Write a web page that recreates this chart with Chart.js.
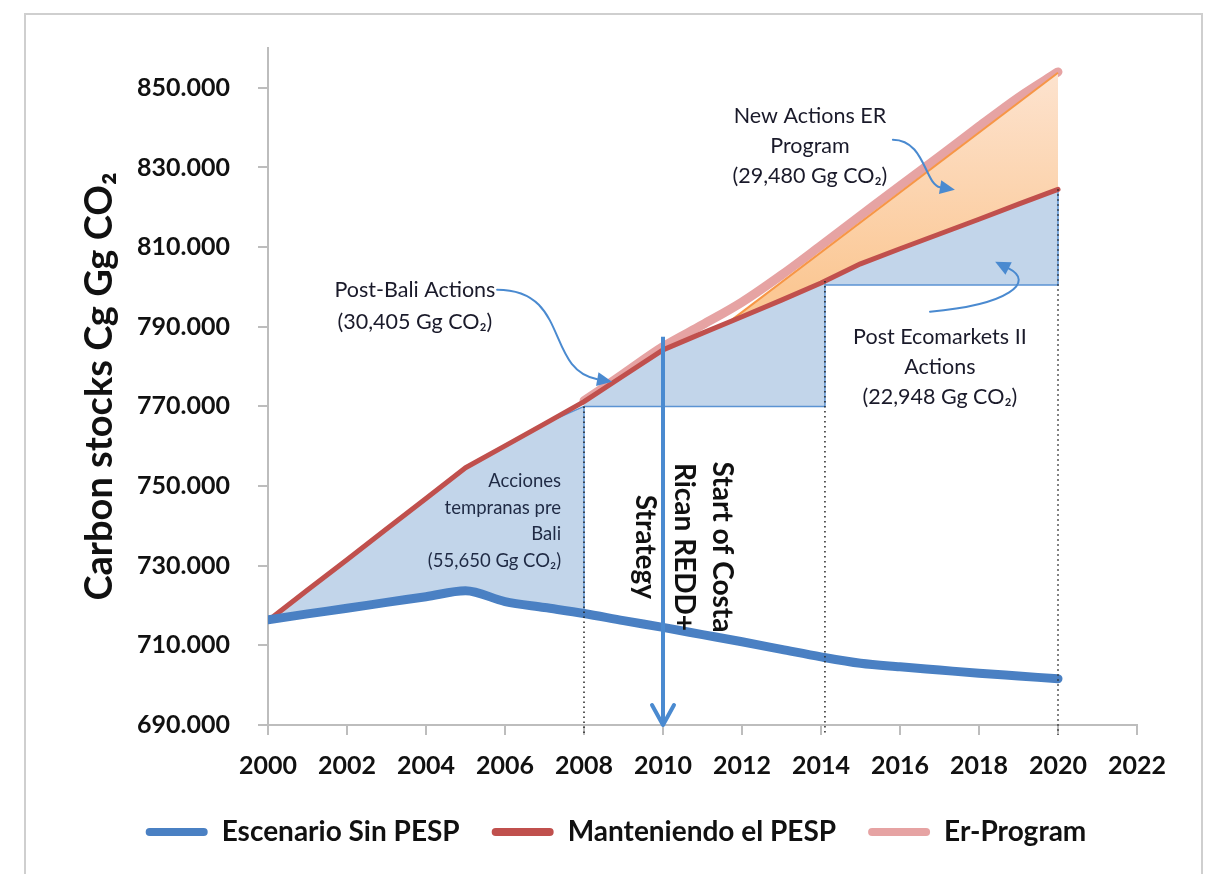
<!DOCTYPE html>
<html><head><meta charset="utf-8">
<script src="https://cdn.jsdelivr.net/npm/chart.js@4"></script>
<style>html,body{margin:0;padding:0;background:#fff}#wrap{width:1214px;height:874px;position:relative}</style>
</head><body><div id="wrap"><canvas id="c"></canvas></div>
<script>
// ---- data (thousand Gg CO2) ----
const years = [2000,2001,2002,2003,2004,2005,2006,2007,2008,2009,2010,2011,2012,2013,2014,2015,2016,2017,2018,2019,2020];
const sinPESP   = [716.4,717.9,719.3,720.8,722.2,723.7,721.0,719.5,718.0,716.2,714.5,712.7,710.9,709.0,707.1,705.5,704.6,703.8,703.0,702.3,701.6];
const mantPESP  = [716.2,723.9,731.5,739.2,746.9,754.6,760.1,765.6,771.2,777.7,784.2,788.4,792.5,796.7,801.0,805.8,809.6,813.3,817.0,820.8,824.5];
const erProgram = [null,null,null,null,null,null,null,null,771.4,778.2,785.0,790.5,796.2,803.0,810.4,817.9,825.4,832.8,840.3,847.6,854.0];
const newActionsX = [2011.75, 2020];
const newActionsY = [791.8, 853.8];
const regionBreaks = [2008, 2014.1, 2020];
const regionBreakTops = [770, 801.5, 824.5];
const regionBases = [770, 800.5];
const strategyYear = 2010;
const strategyTop = 787.5;
const xTicks = [2000,2002,2004,2006,2008,2010,2012,2014,2016,2018,2020,2022];
const yTicks = [690,710,730,750,770,790,810,830,850];
const yTickLabels = ['690.000','710.000','730.000','750.000','770.000','790.000','810.000','830.000','850.000'];
const seriesNames = ['Escenario Sin PESP','Manteniendo el PESP','Er-Program'];

// ---- helpers ----
const pts = (xs, ys) => xs.map((x,i)=>({x, y: ys[i]})).filter(p => p.y !== null);
const bluePts = pts(years, sinPESP);
const redPts = pts(years, mantPESP);
const pinkPts = pts(years, erProgram);
const [rb0, rb1, rb2] = regionBreaks;
const [rt0, rt1, rt2] = regionBreakTops;
const blueAtBreak = sinPESP[years.indexOf(rb0)];

const region1Top = redPts.filter(p => p.x < rb0).concat([{x: rb0, y: rt0}]);
const region1Bottom = bluePts.filter(p => p.x <= rb0);
const region2 = redPts.filter(p => p.x >= rb0 && p.x <= rb1).concat([{x: rb1, y: rt1}]);
const region3 = [{x: rb1, y: rt1}].concat(redPts.filter(p => p.x > rb1));
const outline = [
  {x: rb0, y: regionBases[0]}, {x: rb1, y: regionBases[0]}, {x: rb1, y: rt1}, {x: rb1, y: null},
  {x: rb1, y: regionBases[1]}, {x: rb2, y: regionBases[1]}, {x: rb2, y: rt2}, {x: rb2, y: null},
  {x: rb0, y: rt0}, {x: rb0, y: blueAtBreak}
];
const axisBelow = 687.5;
const dotted = [
  {x: rb0, y: rt0}, {x: rb0, y: axisBelow}, {x: rb0, y: null},
  {x: rb1, y: rt1}, {x: rb1, y: axisBelow}, {x: rb1, y: null},
  {x: rb2, y: rt2}, {x: rb2, y: axisBelow}
];
const arrowPts = [{x: strategyYear, y: strategyTop}, {x: strategyYear, y: 690}];

const FONT = 'Lato, "DejaVu Sans", sans-serif';
const BLUE = '#4a80c3', RED = '#c0504d', PINK = '#e6a3a3', ORANGE = '#f79646', ABLUE = '#4a8ad0';
const REGION = 'rgb(194,213,234)';

// annotations in data coordinates
const notes = [
  {t:'New Actions ER', x:2013.72, y:842.8},
  {t:'Program', x:2013.72, y:835.4},
  {t:'(29,480 Gg CO₂)', x:2013.72, y:827.9},
  {t:'Post-Bali Actions', x:2003.72, y:799.3},
  {t:'(30,405 Gg CO₂)', x:2003.72, y:791.3},
  {t:'Post Ecomarkets II', x:2017.01, y:787.5},
  {t:'Actions', x:2017.01, y:780.0},
  {t:'(22,948 Gg CO₂)', x:2017.01, y:772.4},
  {t:'Acciones', x:2007.42, y:751.3, small:true},
  {t:'tempranas pre', x:2007.42, y:744.5, small:true},
  {t:'Bali', x:2007.42, y:737.9, small:true},
  {t:'(55,650 Gg CO₂)', x:2007.42, y:731.2, small:true}
];
const reddText = [
  {t:'Start of Costa', x:2011.49, y:734.7},
  {t:'Rican REDD+', x:2010.53, y:734.7},
  {t:'Strategy', x:2009.54, y:734.7}
];
const curves = [
  [[2015.82,836.98],[2016.63,836.98],[2016.63,825.68],[2017.39,824.42]],
  [[2005.80,799.30],[2007.65,799.30],[2007.01,779.20],[2008.71,776.18]],
  [[2016.76,793.77],[2018.78,795.53],[2019.42,801.31],[2018.41,806.33]]
];

const annot = {
  id: 'annot',
  beforeDraw(chart) {
    const c = chart.ctx;
    c.save();
    c.fillStyle = '#fff'; c.fillRect(0, 0, chart.width, chart.height);
    c.strokeStyle = '#cfcfcf'; c.lineWidth = 2; c.strokeRect(25, 14, 1177, 900);
    c.restore();
  },
  afterDatasetsDraw(chart) {
    const c = chart.ctx, xs = chart.scales.x, ys = chart.scales.y;
    const X = v => xs.getPixelForValue(v), Y = v => ys.getPixelForValue(v);
    c.save();
    // strategy arrow head
    const meta = chart.getDatasetMeta(10);
    const end = meta.data[meta.data.length - 1];
    c.strokeStyle = ABLUE; c.lineWidth = 4; c.lineCap = 'round'; c.lineJoin = 'round';
    c.beginPath(); c.moveTo(end.x - 11, end.y - 20); c.lineTo(end.x, end.y); c.lineTo(end.x + 11, end.y - 20); c.stroke();
    // curved arrows
    c.lineWidth = 2; c.fillStyle = ABLUE;
    curves.forEach(cv => {
      const p = cv.map(q => [X(q[0]), Y(q[1])]);
      const ang = Math.atan2(p[3][1] - p[2][1], p[3][0] - p[2][0]);
      const L = 15, W = 7;
      const bx = p[3][0] - L * Math.cos(ang), by = p[3][1] - L * Math.sin(ang);
      c.beginPath(); c.moveTo(p[0][0], p[0][1]);
      c.bezierCurveTo(p[1][0], p[1][1], p[2][0], p[2][1], bx, by); c.stroke();
      c.beginPath();
      c.moveTo(p[3][0], p[3][1]);
      c.lineTo(bx + W * Math.sin(ang), by - W * Math.cos(ang));
      c.lineTo(bx - W * Math.sin(ang), by + W * Math.cos(ang));
      c.closePath(); c.fill();
    });
    // texts
    c.textBaseline = 'middle';
    notes.forEach(n => {
      c.fillStyle = n.small ? '#1f2a44' : '#1a1a2a';
      c.font = (n.small ? '18.5px ' : '21.5px ') + FONT;
      c.textAlign = n.small ? 'right' : 'center';
      c.fillText(n.t, X(n.x), Y(n.y));
    });
    c.fillStyle = '#111'; c.font = 'bold 28px ' + FONT; c.textAlign = 'center';
    reddText.forEach(n => {
      c.save(); c.translate(X(n.x), Y(n.y)); c.rotate(Math.PI / 2); c.fillText(n.t, 0, 0); c.restore();
    });
    c.restore();
  }
};

const orangeFill = (ctx) => {
  const ch = ctx.chart;
  if (!ch.chartArea) return 'rgba(251,208,170,0.8)';
  const ys = ch.scales.y;
  const g = ch.ctx.createLinearGradient(0, ys.getPixelForValue(854), 0, ys.getPixelForValue(800));
  g.addColorStop(0, '#fde3cf'); g.addColorStop(1, '#fbc895');
  return g;
};

const lineBase = {pointRadius: 0, pointHoverRadius: 0, tension: 0, fill: false};

new Chart(document.getElementById('c'), {
  type: 'line',
  data: {
    datasets: [
      {...lineBase, label: seriesNames[0], data: bluePts, borderColor: BLUE, backgroundColor: BLUE, borderWidth: 9, borderCapStyle: 'round', borderJoinStyle: 'round', cubicInterpolationMode: 'monotone', order: 1},
      {...lineBase, label: seriesNames[1], data: redPts, borderColor: RED, backgroundColor: RED, borderWidth: 5, borderCapStyle: 'round', borderJoinStyle: 'round', order: 2},
      {...lineBase, label: seriesNames[2], data: pinkPts, borderColor: PINK, backgroundColor: PINK, borderWidth: 9, borderCapStyle: 'round', borderJoinStyle: 'round', cubicInterpolationMode: 'monotone', order: 6},
      {...lineBase, label: 'newActions', data: pts(newActionsX, newActionsY), borderColor: ORANGE, borderWidth: 2, fill: 1, backgroundColor: orangeFill, order: 5},
      {...lineBase, label: 'region1', data: region1Top, borderColor: '#5b93d3', borderWidth: 1.5, fill: '+1', backgroundColor: REGION, order: 4},
      {...lineBase, label: 'region1b', data: region1Bottom, borderColor: 'rgba(0,0,0,0)', borderWidth: 0, order: 4},
      {...lineBase, label: 'region2', data: region2, borderColor: '#5b93d3', borderWidth: 1.5, fill: {value: regionBases[0]}, backgroundColor: REGION, order: 4},
      {...lineBase, label: 'region3', data: region3, borderColor: '#5b93d3', borderWidth: 1.5, fill: {value: regionBases[1]}, backgroundColor: REGION, order: 4},
      {...lineBase, label: 'outline', data: outline, borderColor: '#5b93d3', borderWidth: 1.5, spanGaps: false, order: 3},
      {...lineBase, label: 'dotted', data: dotted, borderColor: '#222', borderWidth: 1.5, borderDash: [1.5, 3.5], spanGaps: false, clip: false, order: 0},
      {...lineBase, label: 'strategy', data: arrowPts, borderColor: ABLUE, borderWidth: 4, order: 0}
    ]
  },
  options: {
    responsive: true, maintainAspectRatio: false, animation: false, devicePixelRatio: 1,
    layout: {padding: {left: 95, right: 77, top: 48, bottom: 18}},
    scales: {
      x: {
        type: 'linear', min: 2000, max: 2022,
        afterBuildTicks: s => { s.ticks = xTicks.map(v => ({value: v})); },
        afterFit: s => { s.height = 61; },
        ticks: {callback: v => String(v), font: {family: FONT, size: 25, weight: 'bold'}, color: '#111', padding: 16, maxRotation: 0, autoSkip: false},
        grid: {display: true, drawOnChartArea: false, drawTicks: true, tickLength: 10, color: '#bdbdbd', lineWidth: 2},
        border: {display: true, color: '#bdbdbd', width: 2}
      },
      y: {
        type: 'linear', min: 690, max: 860,
        afterBuildTicks: s => { s.ticks = yTicks.map(v => ({value: v})); },
        afterFit: s => { s.width = 173; },
        ticks: {callback: v => yTickLabels[yTicks.indexOf(v)], font: {family: FONT, size: 25, weight: 'bold'}, color: '#111', padding: 28},
        grid: {display: true, drawOnChartArea: false, drawTicks: true, tickLength: 10, color: '#bdbdbd', lineWidth: 2},
        border: {display: true, color: '#bdbdbd', width: 2},
        title: {display: true, text: 'Carbon stocks Cg Gg CO₂', font: {family: FONT, size: 38, weight: 'bold'}, color: '#111', padding: {top: -17.8, bottom: 0}}
      }
    },
    plugins: {
      tooltip: {enabled: false},
      legend: {
        position: 'bottom',
        labels: {
          font: {family: FONT, size: 28, weight: 'bold'}, color: '#111',
          boxWidth: 62, boxHeight: 8, useBorderRadius: true, borderRadius: 4, padding: 32,
          filter: item => seriesNames.includes(item.text),
          sort: (a, b) => a.datasetIndex - b.datasetIndex,
          generateLabels: chart => Chart.defaults.plugins.legend.labels.generateLabels(chart).map(it => ({...it, fillStyle: it.strokeStyle, lineWidth: 0}))
        }
      }
    }
  },
  plugins: [annot]
});
</script></body></html>
